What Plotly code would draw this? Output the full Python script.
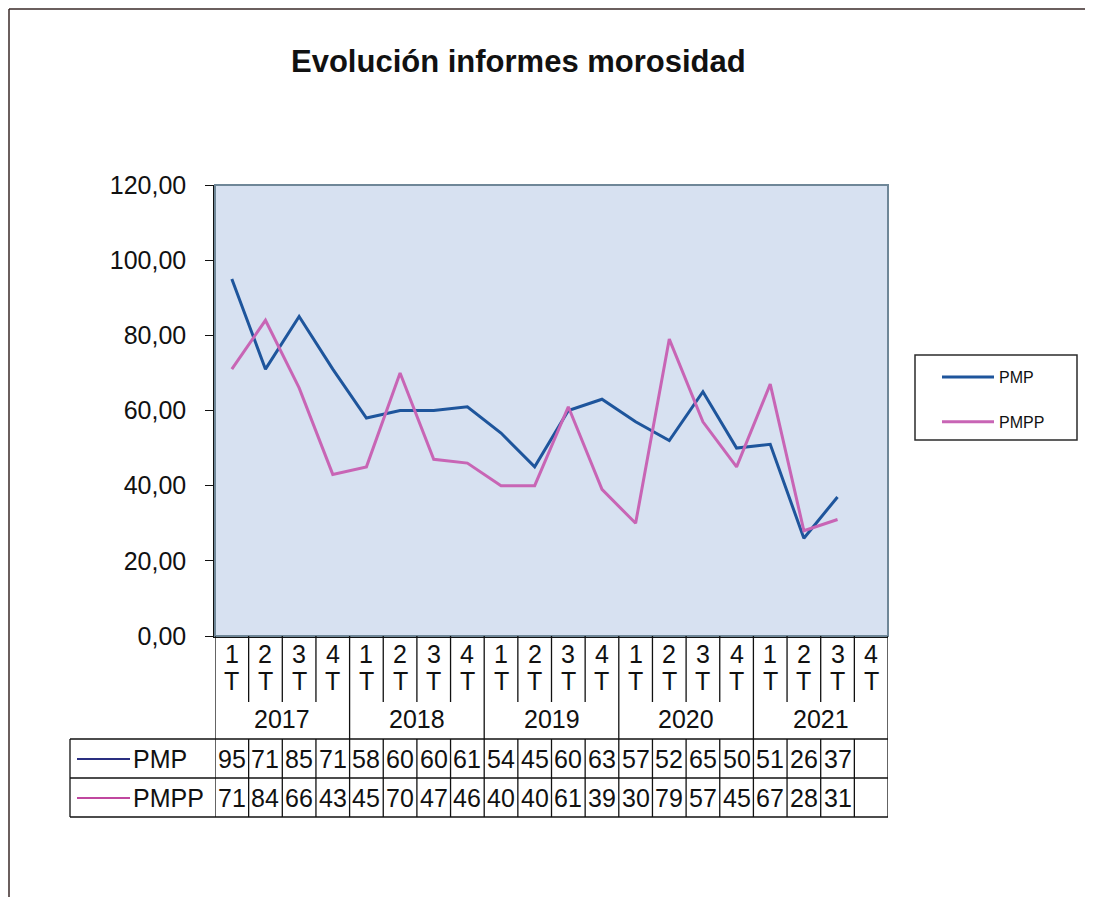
import plotly.graph_objects as go

# ---------------- data ----------------
years = ["2017", "2018", "2019", "2020", "2021"]
quarters = ["1", "2", "3", "4"]
categories = [f"{y} {q}T" for y in years for q in quarters]
pmp = [95, 71, 85, 71, 58, 60, 60, 61, 54, 45, 60, 63, 57, 52, 65, 50, 51, 26, 37, None]
pmpp = [71, 84, 66, 43, 45, 70, 47, 46, 40, 40, 61, 39, 30, 79, 57, 45, 67, 28, 31, None]
series_names = ["PMP", "PMPP"]
title_text = "Evolución informes morosidad"
y_ticks = [0, 20, 40, 60, 80, 100, 120]

# ---------------- layout helpers ----------------
W, H = 1093, 897
OFF = 8  # page body margin
def px(x):  # page pixel x -> paper
    return (x - OFF) / W
def py(y):  # page pixel y -> paper
    return 1 - (y - OFF) / H

FONT = "Arial, Liberation Sans, sans-serif"
colors = {"PMP": "#1E559C", "PMPP": "#C865B5"}
key_colors = {"PMP": "#2A2F80", "PMPP": "#C0479F"}

fig = go.Figure()
for name, vals in zip(series_names, [pmp, pmpp]):
    fig.add_trace(go.Scatter(
        x=categories, y=vals, mode="lines", name=name,
        line=dict(color=colors[name], width=3),
        legendgroup=name,
    ))

n = len(categories)
shapes = []
annotations = []
LINE = dict(color="#111111", width=1.3)
TXT = dict(family=FONT, size=25, color="#111")

# plot area frame (top/right grey)
shapes.append(dict(type="rect", xref="paper", yref="paper",
                   x0=px(215), x1=px(888), y0=py(636), y1=py(185),
                   line=dict(color="#6F8798", width=2), layer="above"))

# outer chart border (top & left)
shapes.append(dict(type="line", xref="paper", yref="paper", x0=px(9), x1=1, y0=py(9), y1=py(9),
                   line=dict(color="#3a2a28", width=1.5)))
shapes.append(dict(type="line", xref="paper", yref="paper", x0=px(9), x1=px(9), y0=py(9), y1=0,
                   line=dict(color="#3a2a28", width=1.5)))

# legend box
shapes.append(dict(type="rect", xref="paper", yref="paper",
                   x0=px(915), x1=px(1077), y0=py(440), y1=py(355),
                   line=dict(color="#2b2b2b", width=1.5)))

# category separators
for i in range(n + 1):
    xb = i - 0.5
    if i % 4 == 0:
        shapes.append(dict(type="line", xref="x", yref="paper", x0=xb, x1=xb,
                           y0=py(636), y1=py(817), line=LINE))
    else:
        shapes.append(dict(type="line", xref="x", yref="paper", x0=xb, x1=xb,
                           y0=py(636), y1=py(702), line=LINE))
        shapes.append(dict(type="line", xref="x", yref="paper", x0=xb, x1=xb,
                           y0=py(739), y1=py(817), line=LINE))

# table horizontal lines
for yy in [739, 778, 817]:
    shapes.append(dict(type="line", xref="paper", yref="paper", x0=px(70), x1=px(888),
                       y0=py(yy), y1=py(yy), line=LINE))
shapes.append(dict(type="line", xref="paper", yref="paper", x0=px(70), x1=px(70),
                   y0=py(739), y1=py(817), line=LINE))

# quarter labels
for i, c in enumerate(categories):
    q = c.split(" ")[1][0]
    annotations.append(dict(x=i, y=py(654), xref="x", yref="paper", text=q, showarrow=False,
                            font=TXT, yanchor="middle"))
    annotations.append(dict(x=i, y=py(681), xref="x", yref="paper", text="T", showarrow=False,
                            font=TXT, yanchor="middle"))

# year labels
for k, yr in enumerate(years):
    annotations.append(dict(x=4 * k + 1.5, y=py(719), xref="x", yref="paper", text=yr,
                            showarrow=False, font=TXT, yanchor="middle"))

# table values and keys
row_y = {"PMP": 759, "PMPP": 798}
for name, vals in zip(series_names, [pmp, pmpp]):
    for i, v in enumerate(vals):
        if v is None:
            continue
        annotations.append(dict(x=i, y=py(row_y[name]), xref="x", yref="paper", text=str(v),
                                showarrow=False, font=TXT, yanchor="middle"))
    shapes.append(dict(type="line", xref="paper", yref="paper", x0=px(77), x1=px(130),
                       y0=py(row_y[name]), y1=py(row_y[name]),
                       line=dict(color=key_colors[name], width=2)))
    annotations.append(dict(x=px(131), y=py(row_y[name]), xref="paper", yref="paper", text=name,
                            showarrow=False, xanchor="left", yanchor="middle", font=TXT))

# title
annotations.append(dict(x=px(519), y=py(62), xref="paper", yref="paper", text="<b>" + title_text + "</b>",
                        showarrow=False, xanchor="center", yanchor="middle",
                        font=dict(family=FONT, size=31, color="#111")))

fig.update_layout(
    width=W, height=H,
    margin=dict(l=0, r=0, t=0, b=0, autoexpand=False),
    paper_bgcolor="white",
    plot_bgcolor="#D7E1F1",
    separators=",.",
    showlegend=True,
    legend=dict(x=px(937), y=py(360), xanchor="left", yanchor="top",
                borderwidth=0, bgcolor="rgba(0,0,0,0)",
                font=dict(family=FONT, size=16, color="#111"),
                tracegroupgap=21, itemwidth=52,
                traceorder="grouped"),
    xaxis=dict(domain=[px(215), px(888)], type="category", categoryorder="array",
               categoryarray=categories, range=[-0.5, n - 0.5], automargin=False,
               showticklabels=False, ticks="", showgrid=False, zeroline=False,
               showline=True, linecolor="#111", linewidth=1.5),
    yaxis=dict(domain=[py(636), py(185)], range=[0, 120], tickvals=y_ticks, automargin=False,
               tickformat=".2f", ticks="outside", ticklen=8, tickcolor="#111", tickwidth=1.3,
               showgrid=False, zeroline=False, showline=True, linecolor="#111", linewidth=1.5,
               tickfont=TXT, ticklabelstandoff=14),
    shapes=shapes,
    annotations=annotations,
)

fig.write_html("out.html")
